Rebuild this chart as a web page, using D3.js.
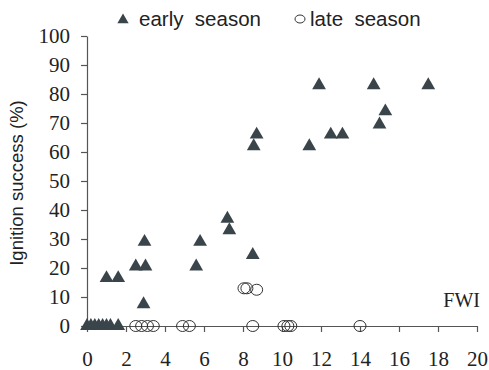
<!DOCTYPE html>
<html>
<head>
<meta charset="utf-8">
<script src="https://cdn.jsdelivr.net/npm/d3@7"></script>
<style>
  body { margin: 0; background: #fff; }
  svg { display: block; }
  .legend text { font-family: "Liberation Sans", Arial, sans-serif; font-size: 20.5px; fill: #222; white-space: pre; }
</style>
</head>
<body>
<svg id="chart" width="489" height="370"></svg>
<script>
// early season (triangles)
const early_fwi = [0, 0.2, 0.4, 0.6, 0.8, 1.0, 1.2, 1.6, 1.0, 1.6, 2.5, 3.0, 2.95, 2.9,
  5.6, 5.8, 7.2, 7.3, 8.5, 8.55, 8.7, 11.4, 11.9, 12.5, 13.1, 14.7, 15.0, 15.3, 17.5]
const early_ign = [0, 0, 0, 0, 0, 0, 0, 0, 16.5, 16.5, 20.5, 20.5, 29, 7.5,
  20.5, 29, 37, 33, 24.5, 62, 66, 62, 83, 66, 66, 83, 69.5, 74, 83]

// late season (circles)
const late_fwi = [2.5, 2.8, 3.1, 3.4, 4.9, 5.25, 8.5, 10.1, 10.3, 10.45, 14, 8.05, 8.2, 8.7]
const late_ign = [0, 0, 0, 0, 0, 0, 0, 0, 0, 0, 0, 13, 13, 12.5]

const x_ticks = d3.range(0, 21, 2)
const y_ticks = d3.range(0, 101, 10)

const svg = d3.select('#chart')
const x = d3.scaleLinear().domain([0, 20]).range([87, 477])
const y = d3.scaleLinear().domain([0, 100]).range([326, 36])

const axisColor = '#555'
const serif = '"Liberation Serif", "Times New Roman", serif'

// axes
let gx = svg.append('g').attr('transform', `translate(0,${y(0)})`)
  .call(d3.axisBottom(x).tickValues(x_ticks).tickSize(6).tickPadding(19).tickSizeOuter(0))
let gy = svg.append('g').attr('transform', `translate(${x(0)},0)`)
  .call(d3.axisLeft(y).tickValues(y_ticks).tickSize(6).tickPadding(11).tickSizeOuter(0))
for (let g of [gx, gy]) {
  g.select('.domain').attr('stroke', axisColor).attr('stroke-width', 1.2)
  g.selectAll('.tick line').attr('stroke', axisColor).attr('stroke-width', 1.2)
  g.selectAll('.tick text')
    .style('font-family', serif).style('font-size', '21px').attr('fill', '#222')
}

// axis titles
svg.append('text')
  .attr('transform', `translate(23,${(y(0) + y(100)) / 2 + 2}) rotate(-90)`)
  .attr('text-anchor', 'middle')
  .attr('font-family', '"Liberation Sans", Arial, sans-serif')
  .attr('font-size', 18.5).attr('fill', '#222')
  .text('Ignition success (%)')

svg.append('text')
  .attr('x', 480).attr('y', 307)
  .attr('text-anchor', 'end')
  .style('font-family', serif)
  .attr('font-size', 20).attr('fill', '#222')
  .text('FWI')

const markColor = '#3a454b'
const tri = d3.symbol().type(d3.symbolTriangle).size(82)

// late season circles
svg.append('g').selectAll('ellipse')
  .data(late_fwi.map((f, i) => ({ f, v: late_ign[i] })))
  .join('ellipse')
  .attr('cx', d => x(d.f)).attr('cy', d => y(d.v))
  .attr('rx', 6).attr('ry', 5.5)
  .attr('fill', 'none').attr('stroke', '#333').attr('stroke-width', 1)

// early season triangles
svg.append('g').selectAll('path')
  .data(early_fwi.map((f, i) => ({ f, v: early_ign[i] })))
  .join('path')
  .attr('d', tri)
  .attr('transform', d => `translate(${x(d.f)},${y(d.v)})`)
  .attr('fill', markColor)

// legend
let legend = svg.append('g').attr('class', 'legend')
legend.append('path').attr('d', d3.symbol().type(d3.symbolTriangle).size(55))
  .attr('transform', 'translate(123,20)').attr('fill', markColor)
legend.append('text').attr('x', 139).attr('y', 26).text('early  season')
legend.append('ellipse').attr('cx', 300).attr('cy', 19).attr('rx', 5).attr('ry', 4)
  .attr('fill', 'none').attr('stroke', '#333').attr('stroke-width', 1)
legend.append('text').attr('x', 310).attr('y', 26).text('late  season')
</script>
</body>
</html>
